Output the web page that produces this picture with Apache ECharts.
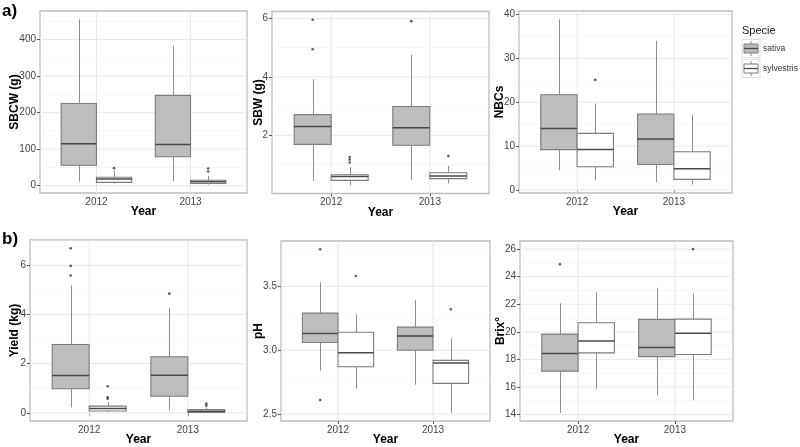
<!DOCTYPE html>
<html>
<head>
<meta charset="utf-8">
<script src="https://cdn.jsdelivr.net/npm/echarts@6/dist/echarts.min.js"></script>
<style>
html,body{margin:0;padding:0;background:#fff;}
#chart{width:800px;height:447px;}
</style>
</head>
<body>
<div id="chart"></div>
<script>
// ---------- data ----------
const years = ['2012', '2013'];
const species = ['sativa', 'sylvestris'];
// each box: [lower whisker, Q1, median, Q3, upper whisker], one per year
const sbcwSativa = [[11, 56, 115, 225, 455], [12, 79, 113, 247, 382]];
const sbcwSylvestris = [[6, 9, 18, 23, 42], [3, 6, 11, 15, 27]];
const sbcwSativaOut = [[], []];
const sbcwSylvestrisOut = [[48], [47, 39]];

const sbwSativa = [[0.44, 1.69, 2.30, 2.71, 3.92], [0.48, 1.66, 2.26, 2.99, 4.76]];
const sbwSylvestris = [[0.29, 0.46, 0.59, 0.65, 0.91], [0.35, 0.52, 0.61, 0.72, 0.95]];
const sbwSativaOut = [[5.96, 4.95], [5.91]];
const sbwSylvestrisOut = [[1.26, 1.17, 1.07], [1.29]];

const nbcSativa = [[4.5, 9.2, 14.0, 21.7, 38.9], [1.8, 5.8, 11.6, 17.3, 34.0]];
const nbcSylvestris = [[2.2, 5.3, 9.2, 12.9, 19.7], [1.2, 2.4, 4.85, 8.7, 17.1]];
const nbcSativaOut = [[], []];
const nbcSylvestrisOut = [[25.1], []];

const yieldSativa = [[0.22, 0.98, 1.52, 2.78, 5.19], [0.11, 0.67, 1.53, 2.28, 4.26]];
const yieldSylvestris = [[0.03, 0.07, 0.17, 0.27, 0.45], [0.0, 0.01, 0.06, 0.13, 0.22]];
const yieldSativaOut = [[6.70, 5.98, 5.59], [4.85]];
const yieldSylvestrisOut = [[1.08, 0.63, 0.57], [0.38, 0.30]];

const phSativa = [[2.84, 3.06, 3.13, 3.29, 3.53], [2.73, 3.00, 3.11, 3.18, 3.39]];
const phSylvestris = [[2.70, 2.87, 2.98, 3.14, 3.28], [2.51, 2.74, 2.90, 2.92, 3.09]];
const phSativaOut = [[3.79, 2.61], []];
const phSylvestrisOut = [[3.58], [3.32]];

const brixSativa = [[14.12, 17.15, 18.42, 19.83, 22.07], [15.39, 18.2, 18.87, 20.9, 23.19]];
const brixSylvestris = [[15.86, 18.47, 19.33, 20.66, 22.9], [15.03, 18.35, 19.9, 20.92, 22.78]];
const brixSativaOut = [[24.9], []];
const brixSylvestrisOut = [[], [26.0]];

// tick values
const sbcwTicks = [0, 100, 200, 300, 400];
const sbcwMinor = [50, 150, 250, 350, 450];
const sbwTicks = [2, 4, 6];
const sbwMinor = [1, 3, 5];
const nbcTicks = [0, 10, 20, 30, 40];
const nbcMinor = [5, 15, 25, 35];
const yieldTicks = [0, 2, 4, 6];
const yieldMinor = [1, 3, 5, 7];
const phTicks = [2.5, 3.0, 3.5];
const phMinor = [2.75, 3.25, 3.75];
const brixTicks = [14, 16, 18, 20, 22, 24, 26];
const brixMinor = [15, 17, 19, 21, 23, 25];

// ---------- layout / styles ----------
const panels = [
  {title: 'SBCW (g)', sat: sbcwSativa, syl: sbcwSylvestris, satOut: sbcwSativaOut, sylOut: sbcwSylvestrisOut,
   ticks: sbcwTicks, minor: sbcwMinor, min: -20, max: 478, grid: {left: 40, top: 11, width: 207, height: 182}, nameGap: 19, fmt: v => String(v)},
  {title: 'SBW (g)', sat: sbwSativa, syl: sbwSylvestris, satOut: sbwSativaOut, sylOut: sbwSylvestrisOut,
   ticks: sbwTicks, minor: sbwMinor, min: 0.01, max: 6.24, grid: {left: 272, top: 11.5, width: 217, height: 182}, nameGap: 7, fmt: v => String(v)},
  {title: 'NBCs', sat: nbcSativa, syl: nbcSylvestris, satOut: nbcSativaOut, sylOut: nbcSylvestrisOut,
   ticks: nbcTicks, minor: nbcMinor, min: -0.7, max: 40.8, grid: {left: 519, top: 11, width: 213, height: 182}, nameGap: 13, fmt: v => String(v)},
  {title: 'Yield (kg)', sat: yieldSativa, syl: yieldSylvestris, satOut: yieldSativaOut, sylOut: yieldSylvestrisOut,
   ticks: yieldTicks, minor: yieldMinor, min: -0.335, max: 7.035, grid: {left: 30, top: 240, width: 217, height: 183}, nameGap: 9, fmt: v => String(v)},
  {title: 'pH', sat: phSativa, syl: phSylvestris, satOut: phSativaOut, sylOut: phSylvestrisOut,
   ticks: phTicks, minor: phMinor, min: 2.446, max: 3.854, grid: {left: 281, top: 241, width: 209, height: 182}, nameGap: 16, fmt: v => v.toFixed(1)},
  {title: 'Brix°', sat: brixSativa, syl: brixSylvestris, satOut: brixSativaOut, sylOut: brixSylvestrisOut,
   ticks: brixTicks, minor: brixMinor, min: 13.53, max: 26.59, grid: {left: 520, top: 241, width: 213, height: 182}, nameGap: 13, fmt: v => String(v)}
];

const FONT = 'Liberation Sans, Arial, sans-serif';
const fillColors = {sativa: '#bdbdbd', sylvestris: '#ffffff'};
const boxStroke = '#7c7c7c';
const whiskerStroke = '#8e8e8e';
const medianStroke = '#4a4a4a';
const XMIN = 0.4, XMAX = 2.6, HALF = 0.1875;
const xCenters = [1, 2];
const xTickVals = [1, 2];

function boxRenderer(fill) {
  return function (params, api) {
    const x = api.value(0);
    const lo = api.value(1), q1 = api.value(2), med = api.value(3), q3 = api.value(4), hi = api.value(5);
    const pL = api.coord([x - HALF, q3]);
    const pR = api.coord([x + HALF, q1]);
    const pc = api.coord([x, med]);
    const pHi = api.coord([x, hi]);
    const pLo = api.coord([x, lo]);
    const cx = Math.round(pc[0]) + 0.5;
    return {
      type: 'group',
      children: [
        {type: 'line', shape: {x1: cx, y1: pHi[1], x2: cx, y2: pL[1]}, style: {stroke: whiskerStroke, lineWidth: 1}},
        {type: 'line', shape: {x1: cx, y1: pR[1], x2: cx, y2: pLo[1]}, style: {stroke: whiskerStroke, lineWidth: 1}},
        {type: 'rect', shape: {x: pL[0], y: pL[1], width: pR[0] - pL[0], height: pR[1] - pL[1]},
         style: {fill: fill, stroke: boxStroke, lineWidth: 1.1}},
        {type: 'line', shape: {x1: pL[0], y1: pc[1], x2: pR[0], y2: pc[1]}, style: {stroke: medianStroke, lineWidth: 1.5}}
      ]
    };
  };
}

function gridRenderer(p) {
  return function (params, api) {
    const children = [];
    p.minor.forEach(v => {
      const a = api.coord([XMIN, v]), b = api.coord([XMAX, v]);
      children.push({type: 'line', shape: {x1: a[0], y1: a[1], x2: b[0], y2: b[1]}, style: {stroke: '#f3f3f3', lineWidth: 0.7}});
    });
    p.ticks.forEach(v => {
      const a = api.coord([XMIN, v]), b = api.coord([XMAX, v]);
      children.push({type: 'line', shape: {x1: a[0], y1: a[1], x2: b[0], y2: b[1]}, style: {stroke: '#e9e9e9', lineWidth: 1}});
    });
    xTickVals.forEach(v => {
      const a = api.coord([v, p.min]), b = api.coord([v, p.max]);
      children.push({type: 'line', shape: {x1: a[0], y1: a[1], x2: b[0], y2: b[1]}, style: {stroke: '#e9e9e9', lineWidth: 1}});
    });
    return {type: 'group', children: children};
  };
}

const grid = [], xAxis = [], yAxis = [], series = [];
panels.forEach((p, i) => {
  grid.push(Object.assign({show: true, backgroundColor: '#fff', borderColor: '#bdbdbd', borderWidth: 1.3}, p.grid));
  xAxis.push({
    gridIndex: i, type: 'value', min: XMIN, max: XMAX,
    name: 'Year', nameLocation: 'middle', nameGap: 13, nameMoveOverlap: false,
    nameTextStyle: {fontFamily: FONT, fontWeight: 'bold', fontSize: 12, color: '#000'},
    axisLine: {show: false},
    axisTick: {show: true, length: 3, customValues: xTickVals, lineStyle: {color: '#555'}},
    axisLabel: {customValues: xTickVals, margin: 4, fontFamily: FONT, fontSize: 10, color: '#444',
      formatter: v => years[Math.round(v) - 1]},
    splitLine: {show: false}
  });
  yAxis.push({
    gridIndex: i, type: 'value', min: p.min, max: p.max,
    name: p.title, nameLocation: 'middle', nameRotate: 90, nameGap: p.nameGap, nameMoveOverlap: false,
    nameTextStyle: {fontFamily: FONT, fontWeight: 'bold', fontSize: 12, color: '#000'},
    axisLine: {show: false},
    axisTick: {show: true, length: 3, customValues: p.ticks, lineStyle: {color: '#555'}},
    axisLabel: {customValues: p.ticks, margin: 4, fontFamily: FONT, fontSize: 10, color: '#444', formatter: p.fmt},
    splitLine: {show: false}
  });
  series.push({
    type: 'custom', xAxisIndex: i, yAxisIndex: i, z: 1, silent: true,
    renderItem: gridRenderer(p), data: [[1, p.ticks[0]]]
  });
  [['sativa', p.sat, p.satOut, -1], ['sylvestris', p.syl, p.sylOut, 1]].forEach(([sp, boxes, outs, side]) => {
    series.push({
      type: 'custom', name: sp, xAxisIndex: i, yAxisIndex: i, z: 3,
      renderItem: boxRenderer(fillColors[sp]),
      encode: {x: 0, y: [1, 2, 3, 4, 5]},
      data: boxes.map((b, k) => [xCenters[k] + side * HALF].concat(b))
    });
    const pts = [];
    outs.forEach((arr, k) => arr.forEach(v => pts.push([xCenters[k] + side * HALF, v])));
    series.push({
      type: 'scatter', xAxisIndex: i, yAxisIndex: i, z: 4, symbolSize: 2.6,
      itemStyle: {color: '#333'}, data: pts
    });
  });
});

// legend drawn as graphic
function legendKey(y, fill) {
  return [
    {type: 'rect', shape: {x: 742, y: y, width: 18, height: 18}, style: {fill: '#fff', stroke: '#dedede', lineWidth: 1}},
    {type: 'line', shape: {x1: 751, y1: y + 1.5, x2: 751, y2: y + 16.5}, style: {stroke: whiskerStroke, lineWidth: 1}},
    {type: 'rect', shape: {x: 744, y: y + 4.5, width: 14, height: 9}, style: {fill: fill, stroke: boxStroke, lineWidth: 1}},
    {type: 'line', shape: {x1: 744, y1: y + 9, x2: 758, y2: y + 9}, style: {stroke: medianStroke, lineWidth: 1.3}}
  ];
}
const graphic = [
  {type: 'text', left: 2, top: 3, style: {text: 'a)', font: 'bold 17px ' + FONT, fill: '#000'}},
  {type: 'text', left: 2, top: 231, style: {text: 'b)', font: 'bold 17px ' + FONT, fill: '#000'}},
  {type: 'text', left: 742, top: 25, style: {text: 'Specie', font: '11px ' + FONT, fill: '#222'}},
  {type: 'group', children: legendKey(39.5, fillColors.sativa).concat(legendKey(59.5, fillColors.sylvestris))},
  {type: 'text', left: 763, top: 44, style: {text: species[0], font: '8.5px ' + FONT, fill: '#333'}},
  {type: 'text', left: 763, top: 64, style: {text: species[1], font: '8.5px ' + FONT, fill: '#333'}}
];

const chart = echarts.init(document.getElementById('chart'), null, {renderer: 'canvas'});
chart.setOption({
  animation: false,
  backgroundColor: '#fff',
  grid: grid, xAxis: xAxis, yAxis: yAxis, series: series, graphic: graphic
});
</script>
</body>
</html>
